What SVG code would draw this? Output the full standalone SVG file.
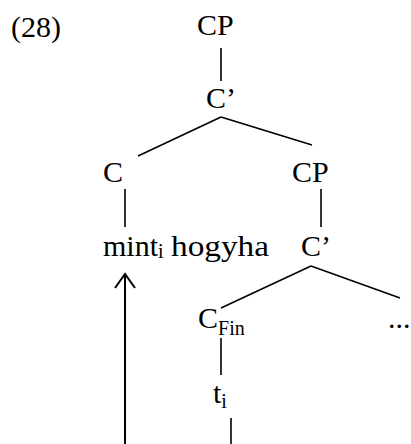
<svg xmlns="http://www.w3.org/2000/svg" width="411" height="444" viewBox="0 0 411 444">
<style>
text{font-family:"Liberation Serif","Times New Roman",serif;font-size:30px;fill:#000}
.sub{font-size:20px}
.edge{stroke:#000;stroke-width:1.6;fill:none}
.arrow{stroke:#000;stroke-width:2;fill:none}
</style>
<rect width="411" height="444" fill="#fff"/>
<text id="label" x="11" y="37">(28)</text>
<g id="cp-top"><text x="197" y="35">CP</text></g>
<g id="cbar-top"><text x="206" y="108">C’</text></g>
<g id="c"><text x="103" y="182">C</text></g>
<g id="cp-right"><text x="292" y="182">CP</text></g>
<g id="mint"><text x="103" y="256">mint<tspan class="sub" dy="2">i</tspan></text><text x="171" y="256" textLength="98" lengthAdjust="spacingAndGlyphs">hogyha</text></g>
<g id="cbar-right"><text x="301" y="256">C’</text></g>
<g id="cfin"><text x="198" y="328">C<tspan class="sub" dy="7">Fin</tspan></text></g>
<g id="dots"><text x="388" y="328">...</text></g>
<g id="ti"><text x="213" y="403">t<tspan class="sub" dy="5">i</tspan></text></g>
<g id="connectors">
<line class="edge" x1="221" y1="48" x2="221" y2="81"/>
<line class="edge" x1="221" y1="117" x2="138" y2="156"/>
<line class="edge" x1="221" y1="117" x2="312" y2="145"/>
<line class="edge" x1="125" y1="189" x2="125" y2="227"/>
<line class="edge" x1="321" y1="189" x2="321" y2="227"/>
<line class="edge" x1="311" y1="266" x2="221" y2="308"/>
<line class="edge" x1="311" y1="266" x2="400" y2="298"/>
<line class="edge" x1="221" y1="338" x2="221" y2="375"/>
<line class="edge" x1="231" y1="418" x2="231" y2="444"/>
<line class="arrow" x1="125" y1="444" x2="125" y2="274"/>
<polyline class="arrow" points="115,288 125,274 135,288"/>
</g>
</svg>
